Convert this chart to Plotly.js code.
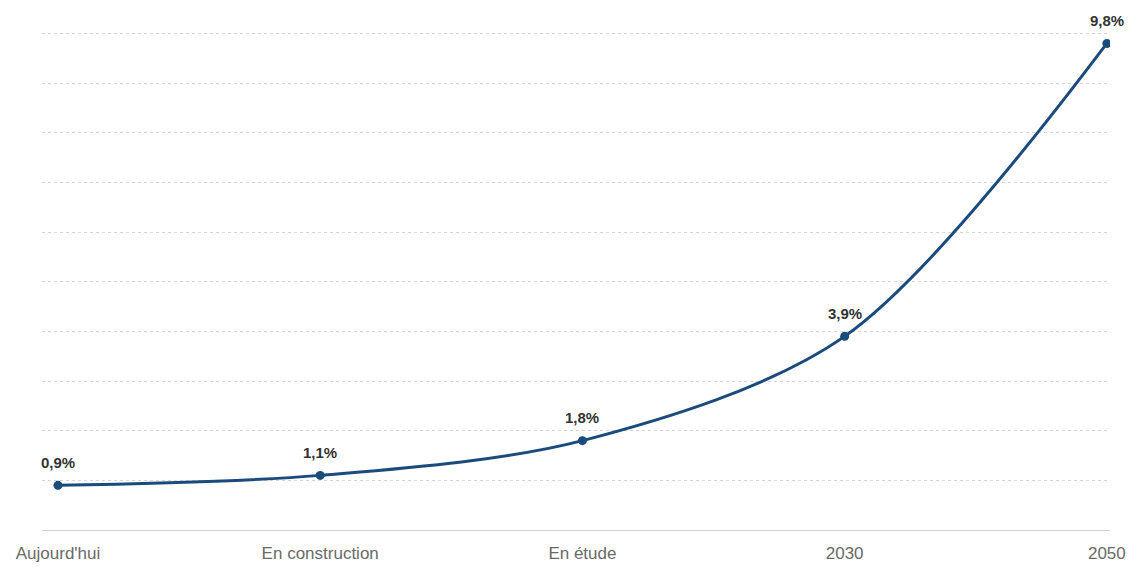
<!DOCTYPE html>
<html>
<head>
<meta charset="utf-8">
<script src="https://cdn.plot.ly/plotly-3.0.1.min.js"></script>
<style>html,body{margin:0;padding:0;background:#fff;}#chart{width:1136px;height:567px;}</style>
</head>
<body>
<div id="chart"></div>
<script>
const categories = ["Aujourd'hui", "En construction", "En étude", "2030", "2050"];
const values = [0.9, 1.1, 1.8, 3.9, 9.8];
const labels = ["0,9%", "1,1%", "1,8%", "3,9%", "9,8%"];

const xIdx = categories.map((c, i) => i);

const trace = {
  x: xIdx,
  y: values,
  type: 'scatter',
  mode: 'lines+markers',
  line: {color: '#1b4b7c', width: 3, shape: 'spline', smoothing: 0.9},
  marker: {color: '#1b4b7c', size: 9},
  hoverinfo: 'none'
};

const annotations = xIdx.map((x, i) => ({
  x: x, y: values[i], text: labels[i],
  showarrow: false, yshift: 23,
  font: {family: 'Liberation Sans, Arial, sans-serif', size: 15, color: '#333', weight: 'bold'}
}));

const layout = {
  width: 1136, height: 567,
  margin: {l: 42, r: 26, t: 32, b: 37},
  paper_bgcolor: '#fff', plot_bgcolor: '#fff',
  showlegend: false,
  separators: ',.',
  xaxis: {
    range: [-0.061, 4.012],
    tickmode: 'array', tickvals: xIdx, ticktext: categories,
    showgrid: false, zeroline: false,
    showline: true, linecolor: '#d4d4d4', linewidth: 1,
    ticks: 'outside', ticklen: 8, tickcolor: 'rgba(0,0,0,0)',
    tickfont: {family: 'Liberation Sans, Arial, sans-serif', size: 17, color: '#6a6a6a'},
    fixedrange: true
  },
  yaxis: {
    range: [0, 10.03],
    dtick: 1, tick0: 0,
    showticklabels: false,
    showgrid: true, gridcolor: '#d6d6d6', gridwidth: 1, griddash: 'dot',
    zeroline: false, showline: false, ticks: '',
    fixedrange: true
  },
  annotations: annotations
};

Plotly.newPlot('chart', [trace], layout, {displayModeBar: false, staticPlot: true});
</script>
</body>
</html>
